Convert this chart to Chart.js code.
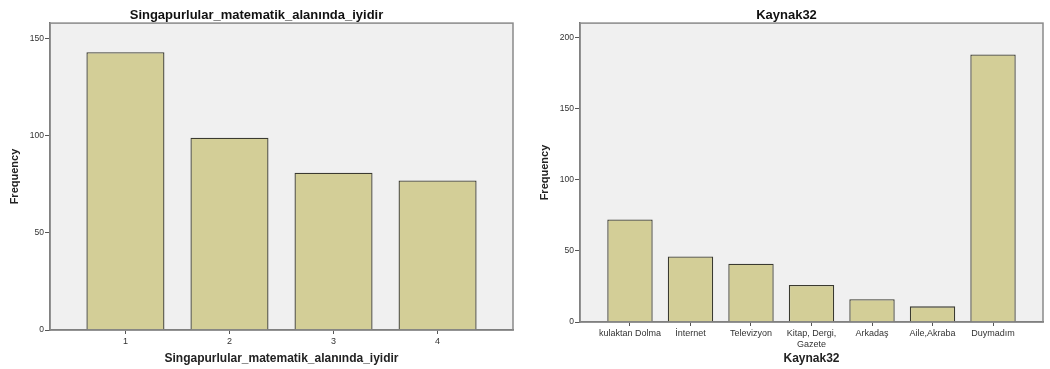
<!DOCTYPE html>
<html>
<head>
<meta charset="utf-8">
<script src="https://cdn.jsdelivr.net/npm/chart.js@4.4.1/dist/chart.umd.min.js"></script>
<style>
body { margin: 0; background: #fff; }
.wrap { display: flex; width: 1050px; height: 369px; }
#leftBox { position: relative; width: 530px; height: 369px; }
#rightBox { position: relative; width: 520px; height: 369px; }
</style>
</head>
<body>
<div class="wrap">
  <div id="leftBox"><canvas id="leftChart"></canvas></div>
  <div id="rightBox"><canvas id="rightChart"></canvas></div>
</div>
<script>
// data
var leftCategories = ['1', '2', '3', '4'];
var leftValues = [143, 99, 81, 77];
var leftTicks = [0, 50, 100, 150];

var rightCategories = ['kulaktan Dolma', 'İnternet', 'Televizyon', ['Kitap, Dergi,', 'Gazete'], 'Arkadaş', 'Aile,Akraba', 'Duymadım'];
var rightValues = [72, 46, 41, 26, 16, 11, 188];
var rightTicks = [0, 50, 100, 150, 200];

Chart.defaults.font.family = 'Arial, "Liberation Sans", sans-serif';
Chart.defaults.animation = false;

// grey plot background + frame like SPSS
var plotFrame = {
  id: 'plotFrame',
  beforeDraw: function(chart) {
    var a = chart.chartArea, c = chart.ctx;
    c.save();
    c.fillStyle = '#f0f0f0';
    c.fillRect(a.left, a.top, a.right - a.left, a.bottom - a.top);
    c.restore();
  },
  afterDraw: function(chart) {
    var a = chart.chartArea, c = chart.ctx;
    c.save();
    c.strokeStyle = '#8a8a8a';
    c.lineWidth = 1.5;
    c.strokeRect(a.left, a.top, a.right - a.left, a.bottom - a.top);
    c.restore();
  }
};

function makeChart(id, categories, values, ticks, yMax, pad, title, padRight, xHeight) {
  var points = values.map(function(v, i) { return { x: i + 1, y: v }; });
  return new Chart(document.getElementById(id), {
    type: 'bar',
    data: {
      datasets: [{
        data: points,
        backgroundColor: '#d3ce97',
        borderColor: '#3a3a30',
        borderWidth: 1.3,
        barPercentage: 0.75,
        categoryPercentage: 1
      }]
    },
    plugins: [plotFrame],
    options: {
      responsive: true,
      maintainAspectRatio: false,
      layout: { padding: { left: 0, right: padRight, top: 0, bottom: 0 } },
      plugins: {
        legend: { display: false },
        tooltip: { enabled: false },
        title: {
          display: true,
          text: title,
          color: '#111',
          font: { size: 13, weight: 'bold' },
          padding: { top: 7.5, bottom: 0 }
        }
      },
      scales: {
        x: {
          type: 'linear',
          offset: false,
          min: 1 - pad,
          max: categories.length + pad,
          afterBuildTicks: function(scale) {
            scale.ticks = categories.map(function(c, i) { return { value: i + 1 }; });
          },
          afterFit: function(scale) { scale.height = xHeight; },
          ticks: {
            autoSkip: false,
            maxRotation: 0,
            padding: 2,
            color: '#333',
            font: { size: 9 },
            callback: function(value) { return categories[value - 1]; }
          },
          grid: { offset: false, drawOnChartArea: false, tickLength: 4, color: '#555' },
          border: { color: '#666', width: 1.5 },
          title: {
            display: true,
            text: title,
            color: '#222',
            font: { size: 12, weight: 'bold' },
            padding: { top: 0, bottom: 3 }
          }
        },
        y: {
          min: 0,
          max: yMax,
          afterBuildTicks: function(scale) {
            scale.ticks = ticks.map(function(t) { return { value: t }; });
          },
          afterFit: function(scale) { scale.width = 50; },
          ticks: { padding: 1, color: '#333', font: { size: 8.5 } },
          grid: { drawOnChartArea: false, tickLength: 5, color: '#555' },
          border: { color: '#666', width: 1.5 },
          title: {
            display: true,
            text: 'Frequency',
            color: '#222',
            font: { size: 11, weight: 'bold' },
            padding: { top: 8, bottom: 0 }
          }
        }
      }
    }
  });
}

window.onload = function() {
  makeChart('leftChart', leftCategories, leftValues, leftTicks, 158, 0.725,
    'Singapurlular_matematik_alanında_iyidir', 17, 39);
  makeChart('rightChart', rightCategories, rightValues, rightTicks, 210, 0.826,
    'Kaynak32', 7, 47);
};
</script>
</body>
</html>
